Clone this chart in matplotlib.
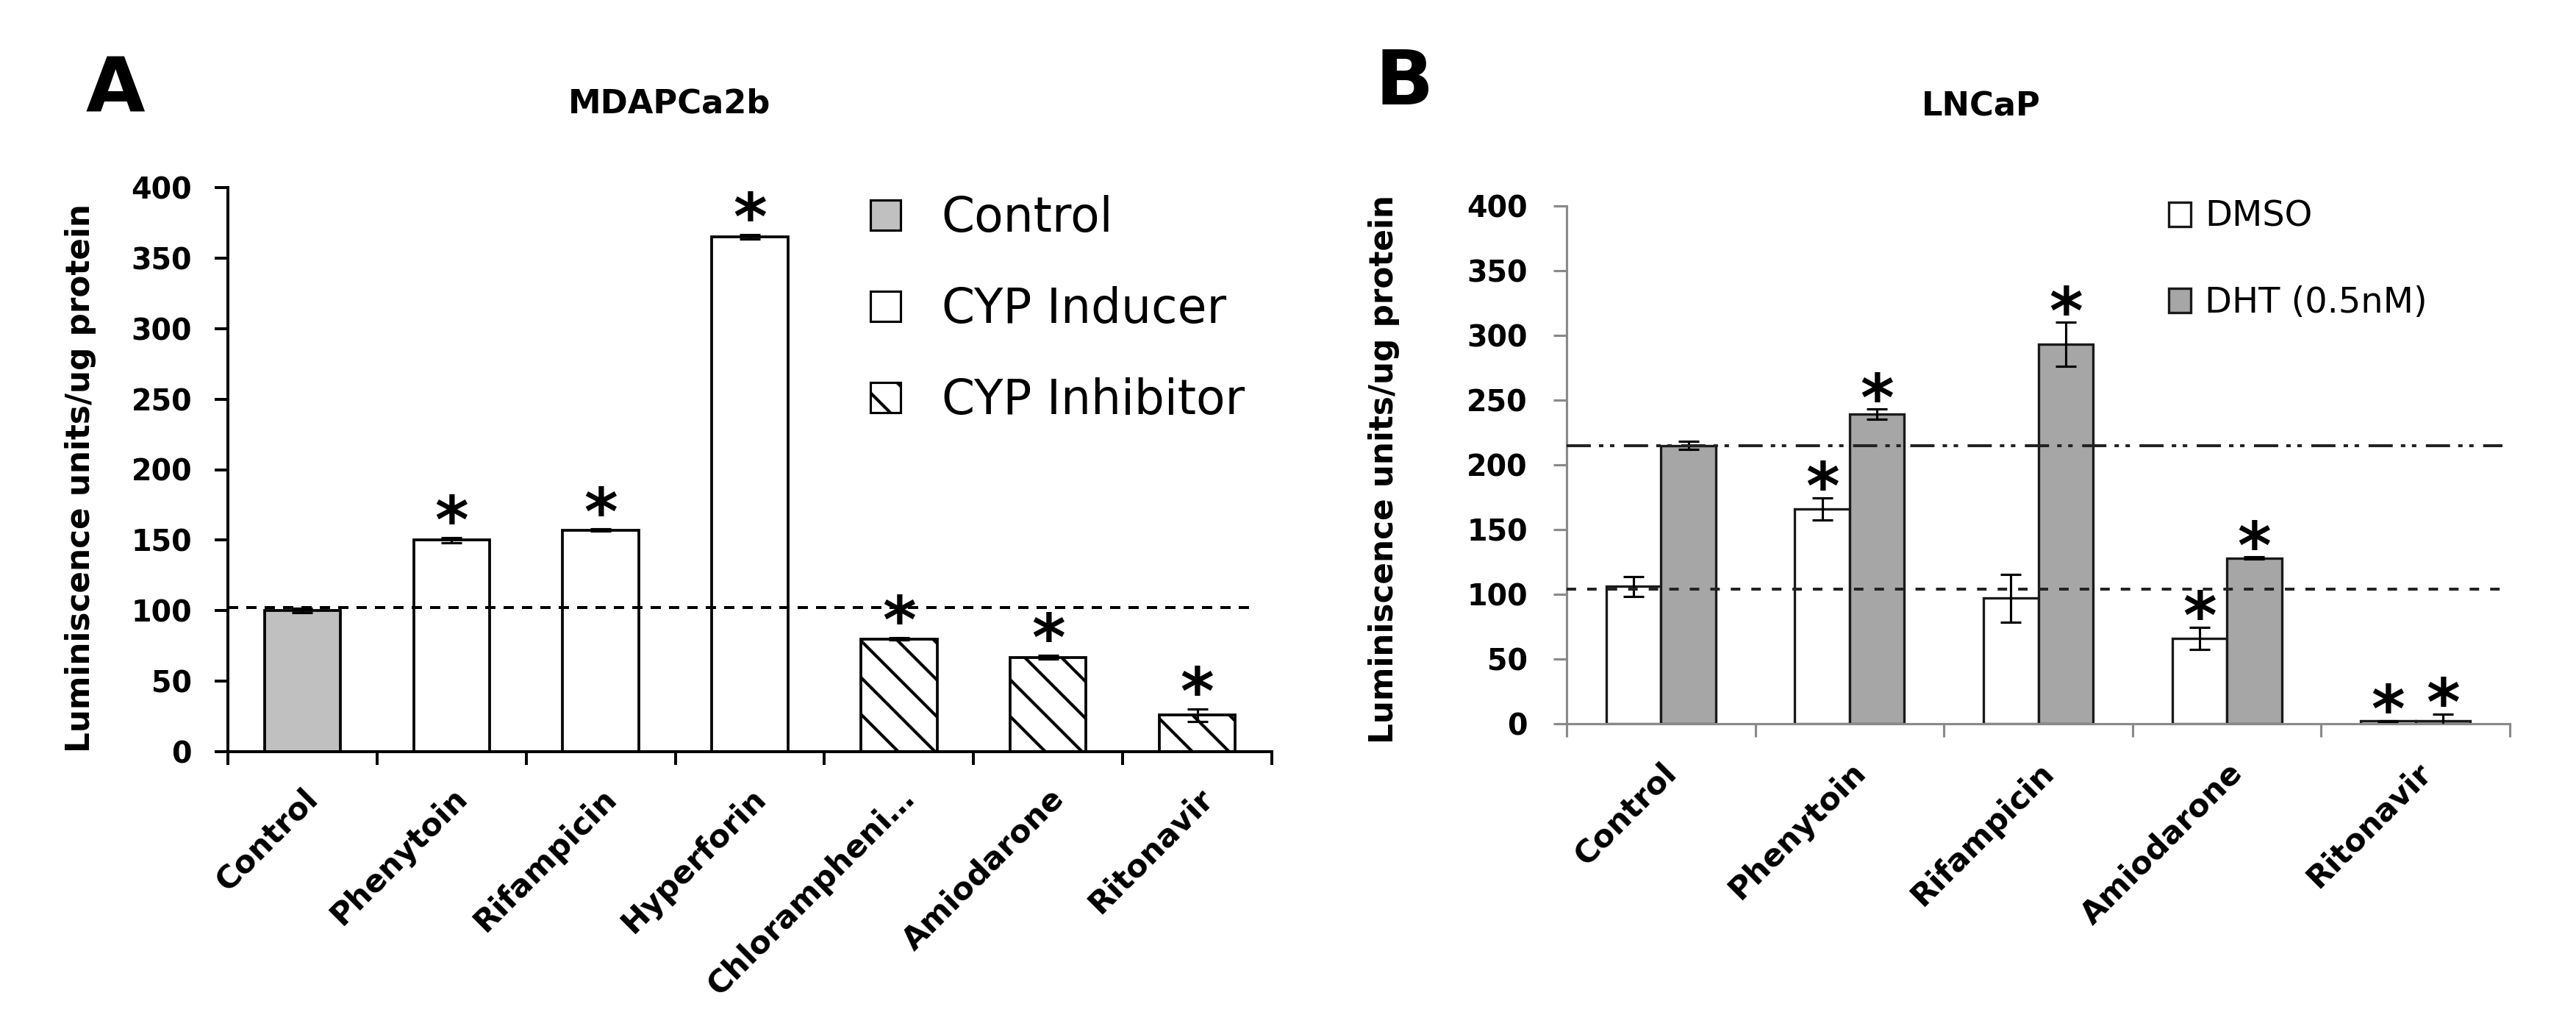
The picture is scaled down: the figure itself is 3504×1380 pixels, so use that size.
import matplotlib
matplotlib.use('Agg')
import matplotlib.pyplot as plt
from matplotlib.patches import Patch
from matplotlib.transforms import ScaledTranslation
import numpy as np

plt.rcParams['font.family'] = ['DejaVu Sans']
plt.rcParams['hatch.linewidth'] = 2.0
plt.rcParams['lines.scale_dashes'] = False

# ---- panel A : MDAPCa2b ----
drugs_a = ['Control', 'Phenytoin', 'Rifampicin', 'Hyperforin',
           'Chlorampheni…', 'Amiodarone', 'Ritonavir']
groups_a = ['Control', 'CYP Inducer', 'CYP Inducer', 'CYP Inducer',
            'CYP Inhibitor', 'CYP Inhibitor', 'CYP Inhibitor']
lum_a = [100, 150, 157, 365, 80, 67, 26]
err_a = [1.5, 2, 0.8, 1.5, 0.8, 1.5, 4.5]
star_a = [False, True, True, True, True, True, True]
ref_a = 102

# ---- panel B : LNCaP ----
drugs_b = ['Control', 'Phenytoin', 'Rifampicin', 'Amiodarone', 'Ritonavir']
dmso_b = [106, 166, 97, 66, 2]
dmso_err = [7.5, 8.5, 18.5, 8.5, 0.5]
dht_b = [215, 239, 293, 128, 2.5]
dht_err = [3, 4, 17, 1, 5]
star_dmso = [False, True, False, True, True]
star_dht = [False, True, True, True, True]
ref_dmso = 104
ref_dht = 215

fills = {'Control': '#c0c0c0', 'CYP Inducer': 'white', 'CYP Inhibitor': 'white'}
hatches = {'Control': '', 'CYP Inducer': '', 'CYP Inhibitor': '\\'}

W, H, DPI = 3504, 1380, 150
fig = plt.figure(figsize=(W / DPI, H / DPI), dpi=DPI)


def px(x, y):
    return x / W, 1 - y / H


def style_axis(ax, n, color, lw, pad):
    for s in ['top', 'right']:
        ax.spines[s].set_visible(False)
    for s in ['left', 'bottom']:
        ax.spines[s].set_color(color)
        ax.spines[s].set_linewidth(lw)
    ax.set_xlim(-0.5, n - 0.5)
    ax.set_ylim(0, 400)
    ax.set_xticks(np.arange(-0.5, n, 1.0))
    ax.set_xticklabels([])
    ax.set_yticks(range(0, 401, 50))
    ax.tick_params(axis='x', direction='out', length=8.5, width=lw, color=color)
    ax.tick_params(axis='y', direction='out', length=8.5, width=lw, color=color,
                   labelsize=19, pad=pad)
    for lbl in ax.get_yticklabels():
        lbl.set_fontweight('bold')


def xlabels(ax, names, dx, dy):
    off = ScaledTranslation(dx / DPI, -dy / DPI, fig.dpi_scale_trans)
    for i, name in enumerate(names):
        ax.text(i, 0, name, transform=ax.get_xaxis_transform() + off,
                rotation=45, rotation_mode='anchor', ha='right', va='top',
                fontsize=20.5, fontweight='bold')


def stars(ax, xs, tops, flags, dy):
    for x, t, f in zip(xs, tops, flags):
        if f:
            ax.annotate('*', (x, t), xytext=(0, dy), textcoords='offset points',
                        ha='center', va='baseline', fontsize=42,
                        fontweight='bold', zorder=5)


# ---------------- A ----------------
axA = fig.add_axes([310 / W, 1 - 1022 / H, 1420 / W, 767 / H])
xa = np.arange(len(drugs_a))
axA.bar(xa, lum_a, width=0.51, color=[fills[g] for g in groups_a],
        hatch=[hatches[g] for g in groups_a], edgecolor='black', linewidth=1.8,
        zorder=2)
axA.errorbar(xa, lum_a, yerr=err_a, fmt='none', ecolor='black', elinewidth=1.5,
             capsize=6.5, capthick=1.5, zorder=3)
axA.hlines(ref_a, -0.5, 6.38, colors='black', linewidth=1.9,
           linestyles=(0, (6.7, 5.3)), zorder=4)
style_axis(axA, len(drugs_a), 'black', 1.9, 15)
xlabels(axA, drugs_a, 0, 42)
stars(axA, xa, [m + e for m, e in zip(lum_a, err_a)], star_a, -3)

handles_a = [Patch(facecolor=fills[g], edgecolor='black', linewidth=1.5,
                   hatch=hatches[g], label=g)
             for g in ['Control', 'CYP Inducer', 'CYP Inhibitor']]
fig.legend(handles=handles_a, loc='upper left', bbox_to_anchor=px(1184, 265),
           frameon=False, fontsize=31, handlelength=0.63, handleheight=0.59,
           handletextpad=0.87, labelspacing=0.93, borderpad=0, borderaxespad=0)

fig.text(*px(157, 153), 'A', fontsize=50, fontweight='bold', ha='center',
         va='baseline')
fig.text(*px(911, 153), 'MDAPCa2b', fontsize=21.5, fontweight='bold',
         ha='center', va='baseline')
fig.text(*px(110, 650), 'Luminiscence units/ug protein', fontsize=21,
         fontweight='bold', rotation=90, ha='center', va='center')

# ---------------- B ----------------
axB = fig.add_axes([2131 / W, 1 - 984 / H, 1283 / W, 704 / H])
xb = np.arange(len(drugs_b))
bw = 0.29
axB.bar(xb - bw / 2, dmso_b, width=bw, color='white', edgecolor='#1a1a1a',
        linewidth=1.6, zorder=2, label='DMSO')
axB.bar(xb + bw / 2, dht_b, width=bw, color='#a6a6a6', edgecolor='#1a1a1a',
        linewidth=1.6, zorder=2, label='DHT (0.5nM)')
axB.errorbar(xb - bw / 2, dmso_b, yerr=dmso_err, fmt='none', ecolor='black',
             elinewidth=1.5, capsize=6.5, capthick=1.5, zorder=3)
axB.errorbar(xb + bw / 2, dht_b, yerr=dht_err, fmt='none', ecolor='black',
             elinewidth=1.5, capsize=6.5, capthick=1.5, zorder=3)
axB.hlines(ref_dmso, -0.5, 4.5, colors='#222222', linewidth=1.9,
           linestyles=(0, (6.2, 7.2)), zorder=4, clip_on=False)
axB.hlines(ref_dht, -0.5, 4.46, colors='#222222', linewidth=1.9,
           linestyles=(0, (15.8, 5.3, 2.9, 4.3, 2.9, 6.2)), zorder=4)
style_axis(axB, len(drugs_b), '#8a8a8a', 1.5, 17)
xlabels(axB, drugs_b, 0, 45)
stars(axB, xb - bw / 2, [m + e for m, e in zip(dmso_b, dmso_err)], star_dmso, -7)
stars(axB, xb + bw / 2, [m + e for m, e in zip(dht_b, dht_err)], star_dht, -7)

fig.legend(handles=axB.get_legend_handles_labels()[0], loc='upper left',
           bbox_to_anchor=px(2950, 271), frameon=False, fontsize=23,
           handlelength=0.62, handleheight=0.69, handletextpad=0.4,
           labelspacing=1.47, borderpad=0, borderaxespad=0)

fig.text(*px(1910, 142), 'B', fontsize=50, fontweight='bold', ha='center',
         va='baseline')
fig.text(*px(2695, 158), 'LNCaP', fontsize=21.5, fontweight='bold',
         ha='center', va='baseline')
fig.text(*px(1882, 638), 'Luminiscence units/ug protein', fontsize=21,
         fontweight='bold', rotation=90, ha='center', va='center')

fig.savefig('out.png', dpi=DPI)
